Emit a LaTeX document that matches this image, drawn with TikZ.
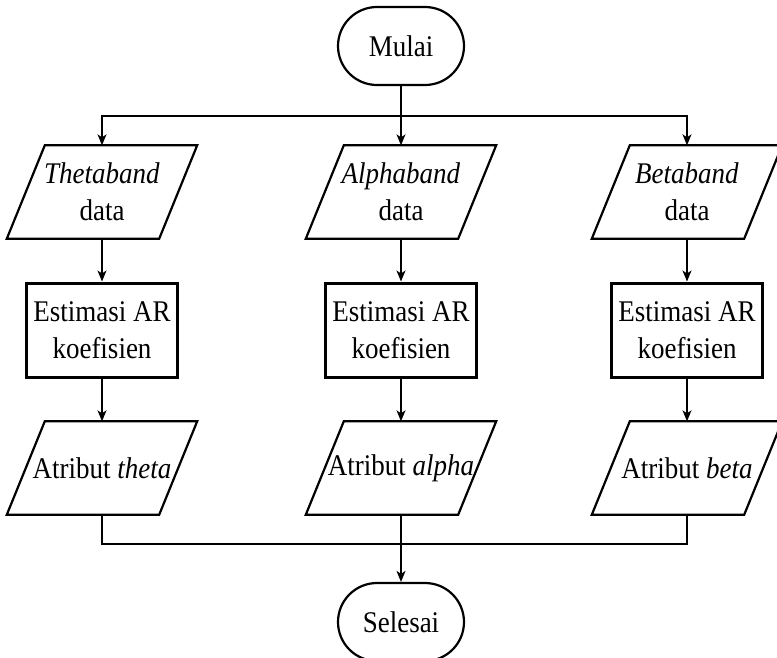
\documentclass[tikz,border=0pt]{standalone}
\usepackage{fontspec}
\setmainfont{Liberation Serif}[FakeStretch=0.9]
\usetikzlibrary{arrows.meta}
% outline of an input/output parallelogram laid over a named rectangle node
\newcommand\iooutline[1]{%
  \draw[ioline] ([xshift=38pt]#1.north west) -- (#1.north east)
    -- ([xshift=-38pt]#1.south east) -- (#1.south west) -- cycle;}
\begin{document}
\begin{tikzpicture}[x=1pt,y=-1pt,
  every node/.style={font=\fontsize{30}{37}\selectfont, align=center, inner sep=0pt},
  terminal/.style={draw, line width=2.2pt, rounded corners=39pt, minimum width=126pt, minimum height=78pt},
  procbox/.style={draw, line width=3pt, minimum width=151pt, minimum height=94pt},
  iobox/.style={minimum width=190pt, minimum height=93pt},
  ioline/.style={line width=2.2pt, line join=miter},
  flow/.style={line width=1.3pt},
  arrowflow/.style={flow, -{Stealth[length=11pt,width=9pt,inset=3pt]}}]
\clip (0,0) rectangle (777,657);
\fill[white] (0,0) rectangle (777,657);

% start / end
\node[terminal] (start) at (401,46) {Mulai};
\node[terminal] (finish) at (401,622) {Selesai};

% input data
\node[iobox] (thin) at (102,192) {\textit{Thetaband}\\data};
\node[iobox] (alin) at (401,192) {\textit{Alphaband}\\data};
\node[iobox] (bein) at (687,192) {\textit{Betaband}\\data};
\iooutline{thin}\iooutline{alin}\iooutline{bein}

% AR estimation
\node[procbox] (thar) at (102,330) {Estimasi AR\\koefisien};
\node[procbox] (alar) at (401,330) {Estimasi AR\\koefisien};
\node[procbox] (bear) at (687,330) {Estimasi AR\\koefisien};

% output attributes
\node[iobox] (thout) at (102,468) {Atribut \textit{theta}};
\node[iobox] (alout) at (401,468) {Atribut \textit{alpha}};
\node[iobox] (beout) at (687,468) {Atribut \textit{beta}};
\iooutline{thout}\iooutline{alout}\iooutline{beout}

% connectors
\coordinate (split) at (401,116);
\coordinate (join) at (401,544);
\draw[flow] (start) -- (split);
\draw[arrowflow] (split) -| (thin);
\draw[arrowflow] (split) -- (alin);
\draw[arrowflow] (split) -| (bein);

\draw[arrowflow] (thin) -- (thar);
\draw[arrowflow] (alin) -- (alar);
\draw[arrowflow] (bein) -- (bear);
\draw[arrowflow] (thar) -- (thout);
\draw[arrowflow] (alar) -- (alout);
\draw[arrowflow] (bear) -- (beout);

\draw[flow] (thout) |- (join);
\draw[flow] (beout) |- (join);
\draw[arrowflow] (alout) -- (finish);
\end{tikzpicture}
\end{document}
